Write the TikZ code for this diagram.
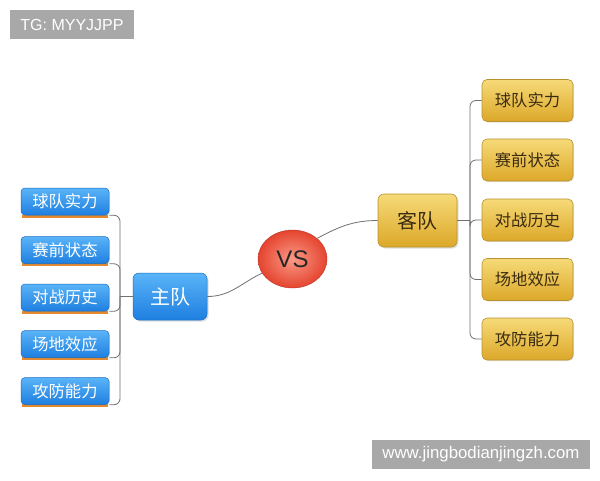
\documentclass[tikz,border=0pt]{standalone}
\usepackage{fontspec}
\setmainfont{Liberation Sans}
\newfontfamily\cjk{Noto Sans CJK SC}
\usetikzlibrary{shapes.geometric,shadows}
\definecolor{bluetop}{HTML}{5AB4F8}
\definecolor{bluebot}{HTML}{1E7FE0}
\definecolor{blueedge}{HTML}{1B6FC4}
\definecolor{goldtop}{HTML}{F6DA78}
\definecolor{goldbot}{HTML}{DCA829}
\definecolor{goldedge}{HTML}{B8922E}
\definecolor{orangeline}{HTML}{E58A2E}
\definecolor{linegray}{HTML}{707070}
\definecolor{wmgray}{HTML}{A8A8A8}
\definecolor{goldtext}{HTML}{3A2A10}
\definecolor{redin}{HTML}{F99A86}
\definecolor{redout}{HTML}{E5442F}
\begin{document}
\begin{tikzpicture}[x=1pt,y=-1pt,
  leftbox/.style={rectangle,rounded corners=4pt,minimum width=88pt,minimum height=27pt,inner sep=0pt,
    top color=bluetop,bottom color=bluebot,draw=blueedge,line width=0.5pt,
    text=white,font=\cjk\fontsize{16.3}{18}\selectfont,
    drop shadow={opacity=0.2,shadow xshift=1pt,shadow yshift=-1pt}},
  mainblue/.style={rectangle,rounded corners=6pt,minimum width=74pt,minimum height=47pt,inner sep=0pt,
    top color=bluetop,bottom color=bluebot,draw=blueedge,line width=0.5pt,
    text=white,font=\cjk\fontsize{20}{22}\selectfont,
    drop shadow={opacity=0.25,shadow xshift=1.5pt,shadow yshift=-1.5pt}},
  rightbox/.style={rectangle,rounded corners=5pt,minimum width=91pt,minimum height=42pt,inner sep=0pt,
    top color=goldtop,bottom color=goldbot,draw=goldedge,line width=0.6pt,
    text=goldtext,font=\cjk\fontsize{16.3}{18}\selectfont,
    drop shadow={opacity=0.2,shadow xshift=1pt,shadow yshift=-1pt}},
  maingold/.style={rectangle,rounded corners=6pt,minimum width=79pt,minimum height=53pt,inner sep=0pt,
    top color=goldtop,bottom color=goldbot,draw=goldedge,line width=0.6pt,
    text=goldtext,font=\cjk\fontsize{20}{22}\selectfont,
    drop shadow={opacity=0.25,shadow xshift=1.5pt,shadow yshift=-1.5pt}},
  vsball/.style={ellipse,minimum width=69pt,minimum height=58pt,inner sep=0pt,
    inner color=redin,outer color=redout,draw=redout!80!black,line width=0.4pt,
    text=black!85,font=\fontsize{24}{26}\selectfont},
  conn/.style={draw=linegray,line width=0.8pt},
  wm/.style={fill=wmgray,text=white,inner sep=0pt}
]
\useasboundingbox (0,0) rectangle (600,480);
\fill[white] (0,0) rectangle (600,480);

% watermarks
\node[wm,minimum width=124pt,minimum height=29pt,font=\fontsize{16}{18}\selectfont] (tg) at (72,24.5) {TG: MYYJJPP};
\node[wm,minimum width=218pt,minimum height=29pt,font=\fontsize{16.8}{18}\selectfont] (web) at (481,454.5) {www.jingbodianjingzh.com};

% left branches
\foreach \i/\y/\t in {1/201.5/球队实力,2/250/赛前状态,3/297.5/对战历史,4/344/场地效应,5/391/攻防能力}{
  \draw[orangeline,line width=3pt] (22,\y+14.5) -- (108,\y+14.5);
  \node[leftbox] (L\i) at (65,\y) {\t};
}
\node[mainblue] (home) at (170,296.5) {主队};
\coordinate (lj) at (120,296.5);
\foreach \i in {1,...,5}{
  \draw[conn,rounded corners=6pt] (L\i.south east) -| (lj);
}
\draw[conn] (lj) -- (home.west);

% VS
\node[vsball] (vs) at (292.5,259) {VS};
% away
\node[maingold] (away) at (417.5,220.5) {客队};

\draw[conn] (home.east) to[out=0,in=205] (vs.205);
\draw[conn] (vs.40) to[out=28,in=180] (away.west);

% right branches
\foreach \i/\y/\t in {1/100.5/球队实力,2/160/赛前状态,3/220/对战历史,4/279.5/场地效应,5/339/攻防能力}{
  \node[rightbox] (R\i) at (527.5,\y) {\t};
}
\coordinate (rj) at (470,220.5);
\draw[conn] (away.east) -- (rj);
\foreach \i in {1,...,5}{
  \draw[conn,rounded corners=6pt] (rj) |- (R\i.west);
}
\end{tikzpicture}
\end{document}
